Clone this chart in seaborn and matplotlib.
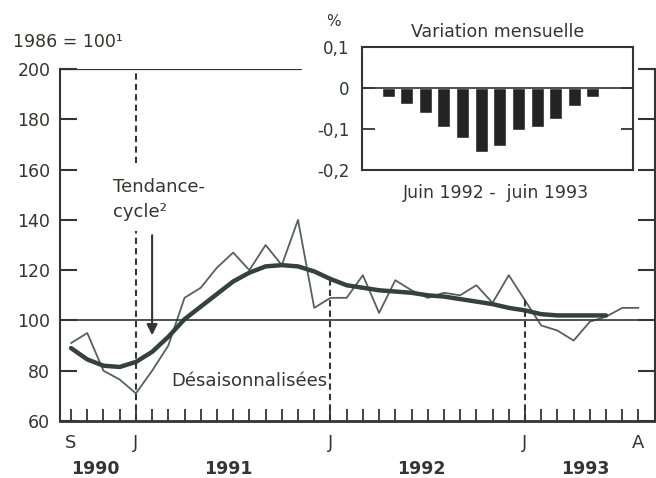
import matplotlib
matplotlib.use('Agg')
import matplotlib.pyplot as plt
import seaborn as sns
import pandas as pd
import numpy as np

sns.set_style('white')
plt.rcParams['font.family'] = ['DejaVu Sans', 'Liberation Sans']

# indice mensuel, sept. 1990 -> août 1993 (1986 = 100)
desaisonnalisees = [91, 95, 80, 76.5, 71, 80, 90, 109, 113, 121, 127, 120,
                    130, 122, 140, 105, 109, 109, 118, 103, 116, 112, 109, 111,
                    110, 114, 107, 118, 108, 98, 96, 92, 99.5, 101.5, 105, 105]
tendance = [89, 84.5, 82, 81.5, 83.5, 87.5, 93.5, 100.5, 105.5, 110.5, 115.5, 119,
            121.5, 122, 121.5, 119.5, 116.5, 114, 113, 112, 111.5, 111, 110, 109.5,
            108.5, 107.5, 106.5, 105, 104, 102.5, 102, 102, 102, 102]

mois_labels = {0: 'S', 4: 'J', 16: 'J', 28: 'J', 35: 'A'}
annees = ['1990', '1991', '1992', '1993']
annees_pos = [1.5, 9.7, 21.6, 31.7]

# variation mensuelle (%), juin 1992 -> juin 1993
mois_inset = ['jul', 'aou', 'sep', 'oct', 'nov', 'dec', 'jan', 'fev', 'mar', 'avr', 'mai', 'jun']
variation = [-0.022, -0.039, -0.061, -0.095, -0.122, -0.156, -0.141, -0.102,
             -0.095, -0.076, -0.044, -0.022]

ink = '#313631'
line_dark = '#34423a'
line_thin = '#55615a'

df_d = pd.DataFrame({'mois': range(len(desaisonnalisees)), 'indice': desaisonnalisees})
df_t = pd.DataFrame({'mois': range(len(tendance)), 'indice': tendance})

fig = plt.figure(figsize=(6.56, 4.78), dpi=100)
ax = fig.add_axes([0.0915, 0.1192, 0.9065, 0.7364])

sns.lineplot(data=df_d, x='mois', y='indice', ax=ax, color=line_thin, lw=1.3)
sns.lineplot(data=df_t, x='mois', y='indice', ax=ax, color=line_dark, lw=3.2)

ax.set_xlim(-0.68, 36.0)
ax.set_ylim(60, 200)
ax.axhline(100, color=ink, lw=1.2)
ax.axhline(200, xmin=0, xmax=0.405, color=ink, lw=1.6)

# lignes pointillées (janvier)
dash = dict(color=ink, lw=1.5, linestyle=(0, (3, 2)))
ax.vlines(4, 162.5, 200, **dash)
ax.vlines(4, 60, 135.5, **dash)
ax.vlines(16, 60, tendance[16] - 1, **dash)
ax.vlines(28, 60, desaisonnalisees[28] + 1, **dash)

ax.spines['top'].set_visible(False)
ax.spines['left'].set_linewidth(1.5)
ax.spines['bottom'].set_linewidth(2.0)
ax.spines['right'].set_linewidth(1.5)
for s in ['left', 'bottom', 'right']:
    ax.spines[s].set_color(ink)

ax.set_yticks(range(60, 201, 20))
ax.tick_params(axis='y', direction='in', length=12, width=1.5, color=ink,
               left=True, right=True, labelright=False, labelsize=12.5,
               labelcolor=ink, pad=7)
ax.set_xticks(range(36))
ax.set_xticklabels([mois_labels.get(i, '') for i in range(36)])
ax.tick_params(axis='x', direction='in', length=9, width=1.3, color=ink,
               bottom=True, labelsize=13, labelcolor=ink, pad=9)
ax.set_xlabel('')
ax.set_ylabel('')
if ax.get_legend():
    ax.get_legend().remove()

for lab, p in zip(annees, annees_pos):
    ax.text(p, -0.136, lab, transform=ax.get_xaxis_transform(), ha='center',
            va='center', fontsize=12.5, fontweight='bold', color=ink)

fig.text(0.02, 0.912, '1986 = 100\u00b9', fontsize=12.5, color=ink, va='center')

ax.text(2.6, 153, 'Tendance-', fontsize=13, color=ink, va='center', ha='left')
ax.text(2.6, 143, 'cycle\u00b2', fontsize=13, color=ink, va='center', ha='left')
ax.annotate('', xy=(5, 93), xytext=(5, 135),
            arrowprops=dict(arrowstyle='-|>', color=ink, lw=1.5, mutation_scale=16))
ax.text(15.8, 76, 'Désaisonnalisées', fontsize=13, color=ink, va='center', ha='right')

# encart : variation mensuelle
ax2 = fig.add_axes([0.5518, 0.6444, 0.4131, 0.2573])
sns.barplot(x=mois_inset, y=variation, color='#222522', width=0.7, ax=ax2,
            saturation=1)
ax2.set_xlim(-1.4, 13.15)
ax2.set_ylim(-0.2, 0.1)
ax2.axhline(0, color=ink, lw=1.2)
ax2.set_xticks([])
ax2.set_yticks([0.1, 0, -0.1, -0.2])
ax2.set_yticklabels(['0,1', '0', '-0,1', '-0,2'])
ax2.tick_params(axis='y', direction='in', length=9, width=1.3, color=ink,
                left=True, right=True, labelsize=12, labelcolor=ink, pad=9)
for s in ax2.spines.values():
    s.set_visible(True)
    s.set_linewidth(1.5)
    s.set_color(ink)
ax2.set_xlabel('')
ax2.set_ylabel('')
ax2.text(0.502, 1.122, 'Variation mensuelle', transform=ax2.transAxes,
         ha='center', va='center', fontsize=12.5, color=ink)
ax2.text(0.494, -0.187, 'Juin 1992 -  juin 1993', transform=ax2.transAxes,
         ha='center', va='center', fontsize=12.5, color=ink)
fig.text(0.508, 0.954, '%', fontsize=11, color=ink, ha='center', va='center')

fig.savefig('out.png', dpi=100, facecolor='white')
